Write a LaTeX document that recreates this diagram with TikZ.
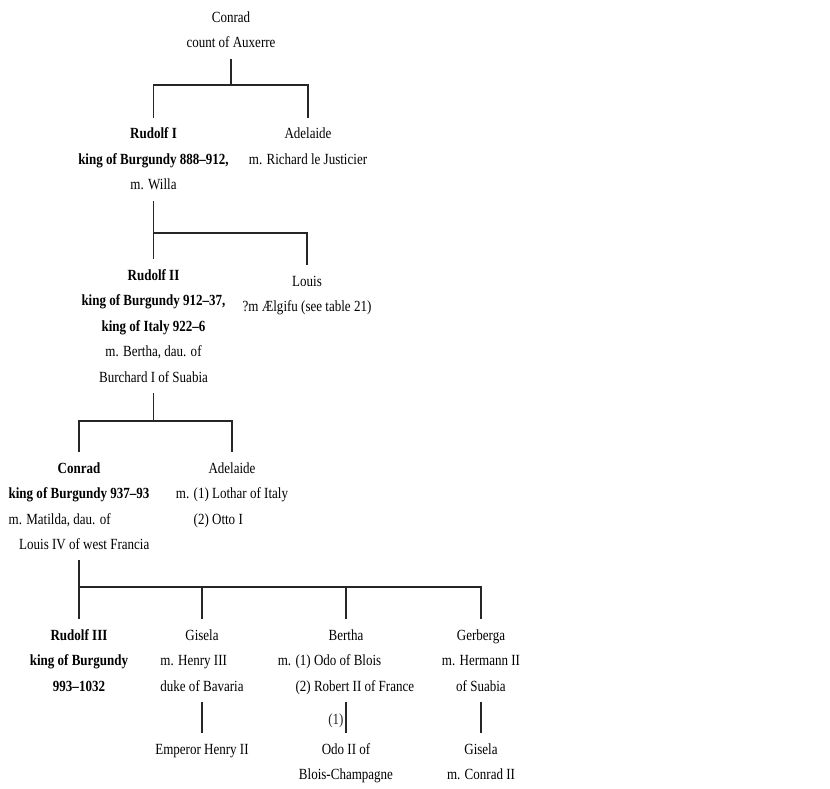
\documentclass[tikz,border=0pt]{standalone}
\usepackage{fontspec}
\setmainfont{Liberation Serif}[FakeStretch=0.84]
\usepackage{tikz}

\newcommand\pers[1]{\begin{tabular}[t]{@{}c@{}}#1\end{tabular}}
\newcommand\leftln[1]{\multicolumn{1}{@{}l@{}}{#1}}
\newcommand\rightln[1]{\multicolumn{1}{@{}r@{}}{#1}}

\tikzset{
  person/.style={anchor=base, inner sep=3pt, font=\fontsize{15.5}{25.5}\selectfont},
  line/.style={line width=1.1pt, black!85}
}

\begin{document}
\begin{tikzpicture}[x=1pt,y=-1pt]
\useasboundingbox (0,0) rectangle (830,789);

\node[person] (conrad0) at (231,22.5) {\pers{Conrad\\count of Auxerre}};
\node[person] (rudolf1) at (153.5,139) {\pers{\textbf{Rudolf I}\\\textbf{king of Burgundy 888--912,}\\m. Willa}};
\node[person] (adelaide1) at (308,139) {\pers{Adelaide\\m. Richard le Justicier}};
\node[person] (rudolf2) at (153.5,280) {\pers{\textbf{Rudolf II}\\\textbf{king of Burgundy 912--37,}\\\textbf{king of Italy 922--6}\\m. Bertha, dau. of\\Burchard I of Suabia}};
\node[person] (louis) at (307,286) {\pers{Louis\\?m Ælgifu (see table 21)}};
\node[person] (conrad1) at (79,473) {\pers{\textbf{Conrad}\\\textbf{king of Burgundy 937--93}\\\leftln{m. Matilda, dau. of}\\\rightln{Louis IV of west Francia}}};
\node[person] (adelaide2) at (232,473) {\pers{Adelaide\\m. (1) Lothar of Italy\\\leftln{\phantom{m. }(2) Otto I}}};
\node[person] (rudolf3) at (79,640) {\pers{\textbf{Rudolf III}\\\textbf{king of Burgundy}\\\textbf{993--1032}}};
\node[person] (gisela) at (202,640) {\pers{Gisela\\\leftln{m. Henry III}\\\rightln{duke of Bavaria}}};
\node[person] (bertha) at (346,640) {\pers{Bertha\\\leftln{m. (1) Odo of Blois}\\\leftln{\phantom{m. }(2) Robert II of France}}};
\node[person] (gerberga) at (481,640) {\pers{Gerberga\\m. Hermann II\\of Suabia}};
\node[person] (henry) at (202,754) {\pers{Emperor Henry II}};
\node[person] (odo) at (346,754) {\pers{Odo II of\\Blois-Champagne}};
\node[person] (gisela2) at (481,754) {\pers{Gisela\\m. Conrad II}};

\coordinate (bar1) at (231,85);
\coordinate (bar2) at (153.5,233);
\coordinate (bar3) at (153.5,421);
\coordinate (bar4) at (79,587);

\draw[line] (conrad0.south) -- (bar1);
\draw[line] (rudolf1.north) |- (bar1) -| (adelaide1.north);
\draw[line] (rudolf1.south) -- (rudolf2.north);
\draw[line] (bar2) -| (louis.north);
\draw[line] (rudolf2.south) -- (bar3);
\draw[line] (conrad1.north) |- (bar3) -| (adelaide2.north);
\draw[line] (conrad1.south) -- (rudolf3.north);
\draw[line] (bar4) -| (gerberga.north);
\draw[line] (gisela.north) -- (gisela.north |- bar4);
\draw[line] (bertha.north) -- (bertha.north |- bar4);
\draw[line] (gisela.south) -- (henry.north);
\draw[line] (bertha.south) -- node[person, pos=0.6, anchor=east, inner sep=2pt] (first) {(1)} (odo.north);
\draw[line] (gerberga.south) -- (gisela2.north);
\end{tikzpicture}
\end{document}
